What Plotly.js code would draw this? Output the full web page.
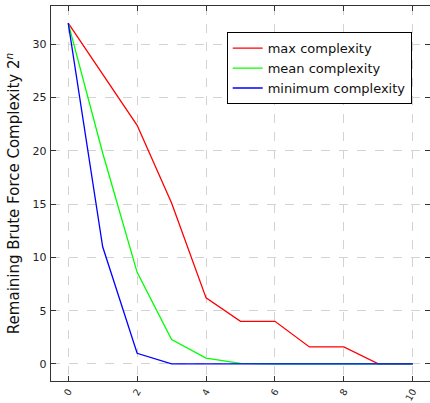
<!DOCTYPE html>
<html>
<head>
<meta charset="utf-8">
<script src="https://cdn.plot.ly/plotly-3.0.1.min.js"></script>
<style>html,body{margin:0;padding:0;background:#fff;}#chart{width:430px;height:403px;}</style>
</head>
<body>
<div id="chart"></div>
<script>
var steps = [0, 1, 2, 3, 4, 5, 6, 7, 8, 9, 10];
var maxComplexity = [32, 27.2, 22.4, 15.1, 6.2, 4.0, 4.0, 1.6, 1.6, 0, 0];
var meanComplexity = [32, 19.8, 8.6, 2.3, 0.55, 0.05, 0.02, 0.01, 0, 0, 0];
var minComplexity = [32, 11.0, 1.0, 0, 0, 0, 0, 0, 0, 0, 0];
var xTicks = [0, 2, 4, 6, 8, 10];
var yTicks = [0, 5, 10, 15, 20, 25, 30];

var font = "DejaVu Sans, sans-serif";
var traces = [
  {x: steps, y: maxComplexity, mode: 'lines', name: 'max complexity', line: {color: '#ff0000', width: 1.3}},
  {x: steps, y: meanComplexity, mode: 'lines', name: 'mean complexity', line: {color: '#00ff00', width: 1.3}},
  {x: steps, y: minComplexity, mode: 'lines', name: 'minimum complexity', line: {color: '#0000ff', width: 1.3}}
];
var axisCommon = {
  showline: true, linecolor: '#333', linewidth: 1.3, mirror: 'ticks',
  ticks: 'inside', ticklen: 5, tickcolor: '#333', tickwidth: 1,
  showgrid: true, gridcolor: '#d3d3d3', griddash: 'dash', gridwidth: 1,
  zeroline: false, tickfont: {family: font, size: 11, color: '#222'}
};
var layout = {
  width: 430, height: 403,
  margin: {l: 51, r: 0, t: 6, b: 22},
  paper_bgcolor: '#fff', plot_bgcolor: '#fff',
  showlegend: true,
  xaxis: Object.assign({}, axisCommon, {range: [-0.5, 10.5], tickvals: xTicks, ticktext: xTicks.map(String), tickangle: -60, ticklabelstandoff: 0,
    tickfont: {family: font, size: 9.5, color: '#222'}}),
  yaxis: Object.assign({}, axisCommon, {range: [-1.6, 33.6], tickvals: yTicks, ticktext: yTicks.map(String), ticklabelstandoff: 1,
    title: {text: 'Remaining Brute Force Complexity 2<sup><i>n</i></sup>', font: {family: font, size: 15, color: '#111'}, standoff: 9}}),
  legend: {x: 0.4636, y: 0.93, xanchor: 'left', yanchor: 'top', bgcolor: '#fff', bordercolor: '#000', borderwidth: 1,
    font: {family: font, size: 13, color: '#111'}, tracegroupgap: 0}
};
Plotly.newPlot('chart', traces, layout, {displayModeBar: false, staticPlot: true});
</script>
</body>
</html>
